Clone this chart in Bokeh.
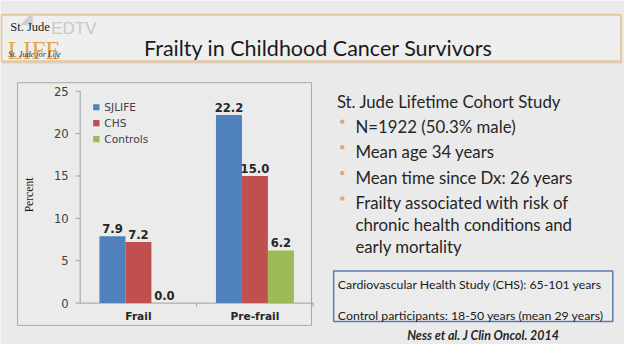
from math import pi
from bokeh.plotting import figure
from bokeh.models import Range1d
from bokeh.core.properties import value
from bokeh.embed import file_html
from bokeh.resources import INLINE

# ---------------- data ----------------
categories = ["Frail", "Pre-frail"]
series = ["SJLIFE", "CHS", "Controls"]
sjlife = [7.9, 22.2]
chs = [7.2, 15.0]
controls = [0.0, 6.2]
y_ticks = [0, 5, 10, 15, 20, 25]
y_label = "Percent"
colors = ["#4F81BD", "#C0504D", "#9BBB59"]

title = "Frailty in Childhood Cancer Survivors"
header = "St. Jude Lifetime Cohort Study"
bullets = [
    ["N=1922 (50.3% male)"],
    ["Mean age 34 years"],
    ["Mean time since Dx: 26 years"],
    ["Frailty associated with risk of", "chronic health conditions and", "early mortality"],
]
box_lines = ["Cardiovascular Health Study (CHS): 65-101 years",
             "Control participants: 18-50 years (mean 29 years)"]
citation = "Ness et al. J Clin Oncol. 2014"

# ---------------- layout (slide drawn in a 640x360 reference space) ----------------
W, H = 624, 344
SW, SH = 640, 360
AX0, CW = 81.7, 119.5      # slide px of category-axis origin, px per category
Y0, YS = 316.7, 8.87       # slide px of value 0, px per unit

BG = "#EAEAEA"


def fy(y):
    return SH - y


p = figure(width=W, height=H,
           x_range=Range1d((0 - AX0) / CW, (SW - AX0) / CW),
           y_range=Range1d((Y0 - SH) / YS, (Y0 - 0) / YS),
           x_axis_type=None, y_axis_type=None,
           output_backend="svg", toolbar_location=None, min_border=0)
p.extra_x_ranges = {"px": Range1d(0, SW)}
p.extra_y_ranges = {"py": Range1d(0, SH)}
p.grid.visible = False
p.outline_line_color = None
p.background_fill_color = BG
p.border_fill_color = BG

PX = dict(x_range_name="px", y_range_name="py")


def T(x, y, text, size, font="Lato", color="#1E1E1E", align="left",
      baseline="alphabetic", style="normal", angle=0.0):
    p.text(x=[x], y=[fy(y)], text=[text], text_font=value(font),
           text_font_size=f"{size}px", text_color=color, text_align=align,
           text_baseline=baseline, text_font_style=style, angle=angle, **PX)


def box(l, r, t, b, fill, line, lw=1.0):
    p.quad(left=[l], right=[r], top=[fy(t)], bottom=[fy(b)],
           fill_color=fill, line_color=line, line_width=lw, **PX)


# ---------------- title bar ----------------
p.segment(x0=[2], y0=[fy(65)], x1=[638], y1=[fy(65)], line_color="#D8D0C6", line_width=2, **PX)
box(1, 636.5, 15, 63.5, "#EFEFEF", "#E8C69C", 2)
p.patch(x=[20, 33, 33], y=[fy(26), fy(12), fy(26)], fill_color="#CFCFCF", line_color=None, **PX)
T(52, 29, "EDTV", 17, font="Liberation Sans", color="#C9C9C9", baseline="middle")
T(10, 28, "St. Jude", 12.5, font="Liberation Serif", color="#202020", baseline="middle")
T(7.5, 52, "LIFE", 25, font="Liberation Serif", color="#E3A64A")
T(8, 57, "St. Jude for Life", 8.2, font="Liberation Serif", color="#22325A",
  baseline="middle", style="italic")
T(326, 50, title, 21.5, color="#1A1A1A", align="center")

# ---------------- chart panel ----------------
box(17.5, 319, 86, 340, "#EBEBEB", "#A8A8A8", 1)

# axes
p.segment(x0=[0], y0=[0], x1=[len(categories)], y1=[0], line_color="#A0A0A0", line_width=1)
p.segment(x0=[0], y0=[0], x1=[0], y1=[y_ticks[-1]], line_color="#A0A0A0", line_width=1)
p.segment(x0=[-4.7 / CW] * len(y_ticks), y0=y_ticks, x1=[0] * len(y_ticks), y1=y_ticks,
          line_color="#A0A0A0", line_width=1)
xt = list(range(1, len(categories) + 1))
p.segment(x0=xt, y0=[0] * len(xt), x1=xt, y1=[-4 / YS] * len(xt),
          line_color="#A0A0A0", line_width=1)
p.text(x=[(70 - AX0) / CW] * len(y_ticks), y=y_ticks, text=[str(t) for t in y_ticks],
       text_font=value("DejaVu Sans"), text_font_size="11.6px", text_color="#404040",
       text_align="right", text_baseline="middle")
p.text(x=[i + 0.5 for i in range(len(categories))], y=[(Y0 - 330) / YS] * len(categories),
       text=categories, text_font=value("DejaVu Sans"), text_font_size="10.6px",
       text_font_style="bold", text_color="#262626", text_align="center",
       text_baseline="middle")
T(30, 203.5, y_label, 11.6, font="Liberation Serif", color="#1A1A1A", align="center",
  baseline="middle", angle=pi / 2)

# bars
bw = 0.223
offsets = [-bw, 0.0, bw]
for k, vals in enumerate([sjlife, chs, controls]):
    xs = [i + 0.5 + offsets[k] for i in range(len(categories))]
    p.vbar(x=xs, top=vals, bottom=0, width=bw, fill_color=colors[k], line_color=None)
    p.text(x=xs, y=[v + 8 / YS for v in vals], text=[f"{v:.1f}" for v in vals],
           text_font=value("DejaVu Sans"), text_font_size="11.6px", text_font_style="bold",
           text_color="#262626", text_align="center", text_baseline="middle")

# legend
for k, name in enumerate(series):
    yy = 111.7 + k * 16.65
    p.rect(x=[98.3], y=[fy(yy)], width=6.5, height=6.5, fill_color=colors[k],
           line_color=None, **PX)
    T(106.5, yy, name, 10.6, font="DejaVu Sans", color="#404040", baseline="middle")

# ---------------- right text ----------------
T(345, 105.5, header, 16.8, color="#262626")
line_y = 131.5
for item in bullets:
    p.scatter(x=[350.5], y=[fy(line_y - 4.5)], size=4.5, marker="circle",
              fill_color="#DDA882", line_color=None, **PX)
    for j, txt in enumerate(item):
        T(364, line_y, txt, 16.8, color="#262626")
        line_y += 23 if j < len(item) - 1 else 0
    line_y += 26.7

box(341.7, 628, 283, 336, "#EBEBEB", "#5A7BAA", 1.5)
T(346, 297, box_lines[0], 12.3, color="#1A1A1A")
T(346, 329.5, box_lines[1], 12.3, color="#1A1A1A")
T(495, 351, citation, 12.4, color="#262626", align="center", style="bold italic")

open("out.html", "w").write(file_html(p, INLINE))
